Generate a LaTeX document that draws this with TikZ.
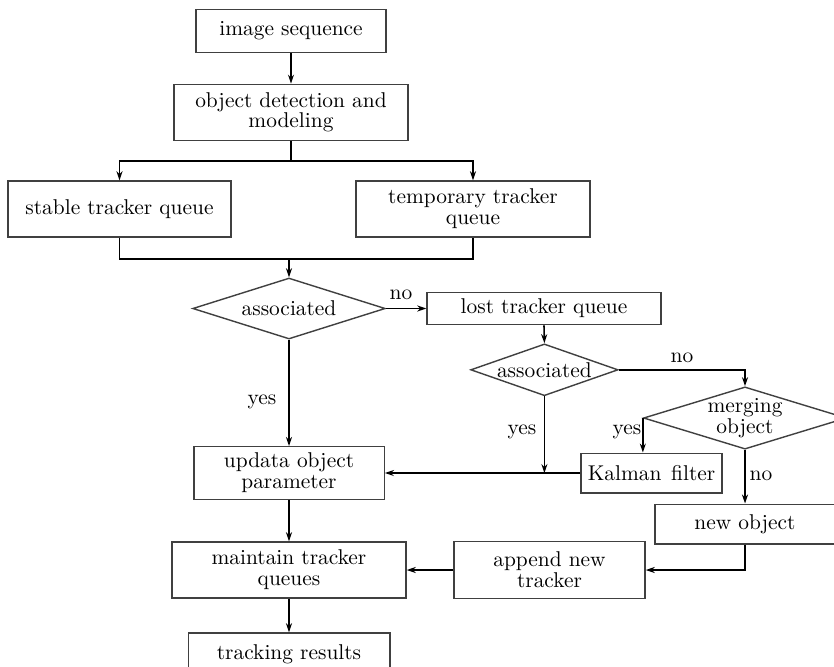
\documentclass[tikz,border=0pt]{standalone}
\usetikzlibrary{shapes.geometric,arrows.meta}
\begin{document}
\begin{tikzpicture}[x=0.5pt,y=-0.5pt,
  font=\fontsize{10.7}{10.4}\selectfont,
  box/.style={draw=black!75,line width=0.7pt,rectangle,align=center,inner sep=0pt},
  dia/.style={draw=black!75,line width=0.7pt,diamond,align=center,inner sep=0pt},
  conn/.style={line width=0.8pt,-{Stealth[length=4.5pt,width=3pt]}},
  plain/.style={line width=0.8pt},
  lbl/.style={inner sep=0pt}]
\useasboundingbox[fill=white] (0,0) rectangle (834,666);

% main column
\node[box,minimum width=95pt,minimum height=21.5pt] (img) at (291,30.8) {image sequence};
\node[box,minimum width=117pt,minimum height=28pt] (det) at (291,112.3) {object detection and\\modeling};
\node[box,minimum width=111.5pt,minimum height=28pt] (stb) at (119.5,209) {stable tracker queue};
\node[box,minimum width=117pt,minimum height=28pt] (tmp) at (473,209) {temporary tracker\\queue};
\node[dia,minimum width=96.3pt,minimum height=30.5pt,aspect=3.16] (a1) at (289,308.5) {associated};
\node[box,minimum width=117pt,minimum height=16.2pt] (lost) at (544,308.5) {lost tracker queue};
\node[dia,minimum width=73.7pt,minimum height=25.9pt,aspect=2.85] (a2) at (544.4,369.8) {associated};
\node[dia,minimum width=93.7pt,minimum height=28.7pt,aspect=3.26] (mrg) at (745,418) {merging\\object};
\node[box,minimum width=70.5pt,minimum height=19.8pt] (kal) at (651.5,473) {Kalman\hspace{0.45em}filter};
\node[box,minimum width=95.2pt,minimum height=26.3pt] (upd) at (289,473) {updata object\\parameter};
\node[box,minimum width=90pt,minimum height=19.8pt] (new) at (745,524) {new object};
\node[box,minimum width=95.5pt,minimum height=28.3pt] (app) at (549.5,570) {append new\\tracker};
\node[box,minimum width=117pt,minimum height=28pt] (mnt) at (289,570) {maintain tracker\\queues};
\node[box,minimum width=100.8pt,minimum height=21pt] (trk) at (289,654) {tracking results};

\coordinate (split) at (291,160.7);
\coordinate (join) at (289,259);

% connectors
\draw[conn] (img.south) -- (det.north);
\draw[plain] (det.south) -- (split);
\draw[conn] (split) -| (stb.north);
\draw[conn] (split) -| (tmp.north);
\draw[plain] (stb.south) |- (join) -| (tmp.south);
\draw[conn] (join) -- (a1.north);
\draw[conn] (a1.east) -- (lost.west);
\node[lbl] (no1) at (401,295) {no};
\draw[conn] (a1.south) -- (upd.north);
\node[lbl] (yes1) at (262,402) {yes};
\draw[conn] (lost.south) -- (a2.north);
\draw[conn] (a2.east) -| (mrg.north);
\node[lbl] (no2) at (682,358) {no};
\draw[conn] (mrg.west) -- (mrg.west |- kal.north);
\node[lbl] (yes3) at (627,432) {yes};
\coordinate (j) at (a2.south |- kal.west);
\draw[conn] (a2.south) -- (j);
\node[lbl] (yes2) at (522,432) {yes};
\draw[conn] (kal.west) -- (upd.east);
\draw[conn] (mrg.south) -- (new.north);
\node[lbl] (no3) at (761,476) {no};
\draw[conn] (upd.south) -- (mnt.north);
\draw[conn] (new.south) |- (app.east);
\draw[conn] (app.west) -- (mnt.east);
\draw[conn] (mnt.south) -- (trk.north);
\end{tikzpicture}
\end{document}
